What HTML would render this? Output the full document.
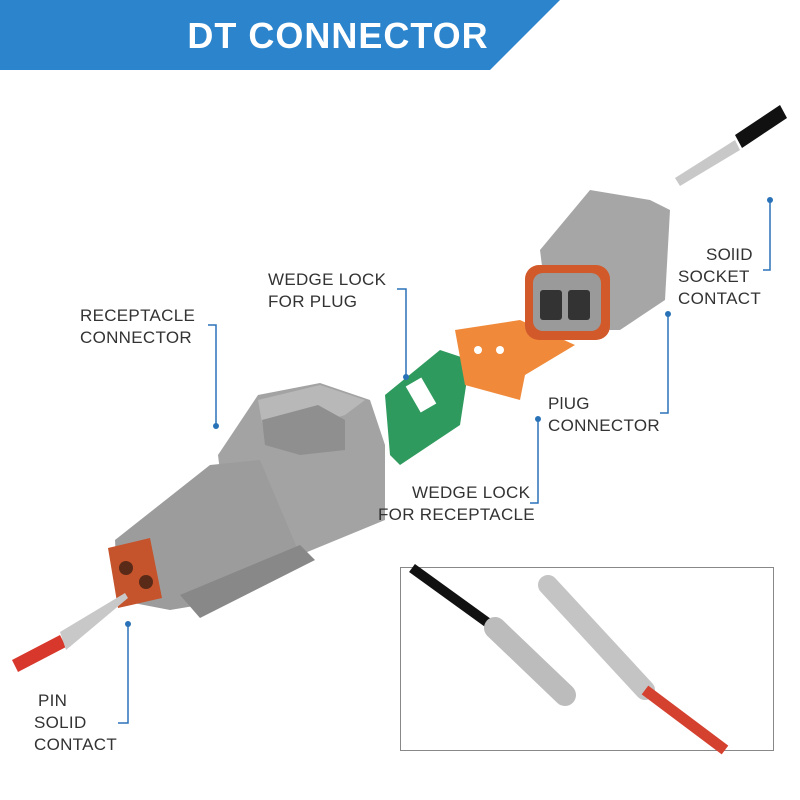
<!DOCTYPE html>
<html><head><style>
body{margin:0;background:#fff}
svg{display:block}
text{font-family:"Liberation Sans",sans-serif}
.l{font-size:17px;fill:#333;letter-spacing:0.3px}
.ln{stroke:#2a72b8;stroke-width:1.5;fill:none}
.d{fill:#2a72b8}
</style></head><body>
<svg width="800" height="800" viewBox="0 0 800 800">
<polygon points="0,0 560,0 490,70 0,70" fill="#2b84cc"/>
<text x="338" y="48" text-anchor="middle" font-size="36" font-weight="bold" fill="#fff" letter-spacing="1">DT CONNECTOR</text>

<!-- receptacle connector rear block -->
<polygon points="218,455 258,395 320,383 370,400 385,445 385,520 300,555 230,555" fill="#a3a3a3"/>
<polygon points="258,400 320,385 365,400 345,415 265,440" fill="#b8b8b8"/>
<polygon points="262,420 318,405 345,420 345,450 300,455 265,445" fill="#8f8f8f"/>
<!-- front portion -->
<polygon points="115,540 210,465 260,460 300,555 230,600 170,610 118,600" fill="#9c9c9c"/>
<polygon points="180,595 300,545 315,560 200,618" fill="#888"/>
<polygon points="108,548 150,538 162,598 118,608" fill="#c5532b"/>
<circle cx="126" cy="568" r="7" fill="#5a2a18"/><circle cx="146" cy="582" r="7" fill="#5a2a18"/>
<!-- pin contact -->
<polygon points="12,660 60,635 66,647 18,672" fill="#d8372b"/>
<polygon points="60,632 125,593 128,598 66,650" fill="#c8c8c8"/>

<!-- wedge lock green -->
<polygon points="385,395 440,350 470,360 460,425 400,465 390,455" fill="#2e9a5e"/>
<rect x="412" y="380" width="18" height="30" fill="#fff" transform="rotate(-30 421 395)"/>

<!-- wedge lock orange -->
<polygon points="455,330 520,320 575,345 525,375 520,400 465,385" fill="#f08a3a"/>
<circle cx="478" cy="350" r="4" fill="#fff"/><circle cx="500" cy="350" r="4" fill="#fff"/>

<!-- plug connector -->
<polygon points="540,250 590,190 650,200 670,210 665,300 620,330 550,330" fill="#a6a6a6"/>
<rect x="525" y="265" width="85" height="75" rx="14" fill="#d25a2a"/>
<rect x="533" y="273" width="68" height="58" rx="10" fill="#9a9a9a"/>
<rect x="540" y="290" width="22" height="30" rx="3" fill="#333"/>
<rect x="568" y="290" width="22" height="30" rx="3" fill="#333"/>
<!-- socket contact -->
<polygon points="675,178 735,140 740,150 680,186" fill="#c8c8c8"/>
<polygon points="735,135 780,105 787,118 742,148" fill="#111"/>

<!-- inset box -->
<rect x="400.5" y="567.5" width="373" height="183" fill="#fff" stroke="#888"/>
<path d="M412,568 L495,628" stroke="#111" stroke-width="10"/>
<path d="M495,628 L565,695" stroke="#bcbcbc" stroke-width="22" stroke-linecap="round"/>
<path d="M548,585 L645,690" stroke="#c4c4c4" stroke-width="20" stroke-linecap="round"/>
<path d="M645,690 L725,750" stroke="#d5412f" stroke-width="11"/>

<!-- labels -->
<text class="l" x="268" y="285">WEDGE LOCK</text>
<text class="l" x="268" y="307">FOR PLUG</text>
<path class="ln" d="M397,289 L406,289 L406,376"/><circle class="d" cx="406" cy="377" r="3"/>

<text class="l" x="80" y="321">RECEPTACLE</text>
<text class="l" x="80" y="343">CONNECTOR</text>
<path class="ln" d="M208,325 L216,325 L216,425"/><circle class="d" cx="216" cy="426" r="3"/>

<text class="l" x="706" y="260">SOlID</text>
<text class="l" x="678" y="282">SOCKET</text>
<text class="l" x="678" y="304">CONTACT</text>
<path class="ln" d="M763,270 L770,270 L770,200"/><circle class="d" cx="770" cy="200" r="3"/>

<text class="l" x="548" y="409">PlUG</text>
<text class="l" x="548" y="431">CONNECTOR</text>
<path class="ln" d="M660,413 L668,413 L668,315"/><circle class="d" cx="668" cy="314" r="3"/>

<text class="l" x="412" y="498">WEDGE LOCK</text>
<text class="l" x="378" y="520">FOR RECEPTACLE</text>
<path class="ln" d="M530,503 L538,503 L538,420"/><circle class="d" cx="538" cy="419" r="3"/>

<text class="l" x="38" y="706">PIN</text>
<text class="l" x="34" y="728">SOLID</text>
<text class="l" x="34" y="750">CONTACT</text>
<path class="ln" d="M118,723 L128,723 L128,625"/><circle class="d" cx="128" cy="624" r="3"/>
</svg>
</body></html>
